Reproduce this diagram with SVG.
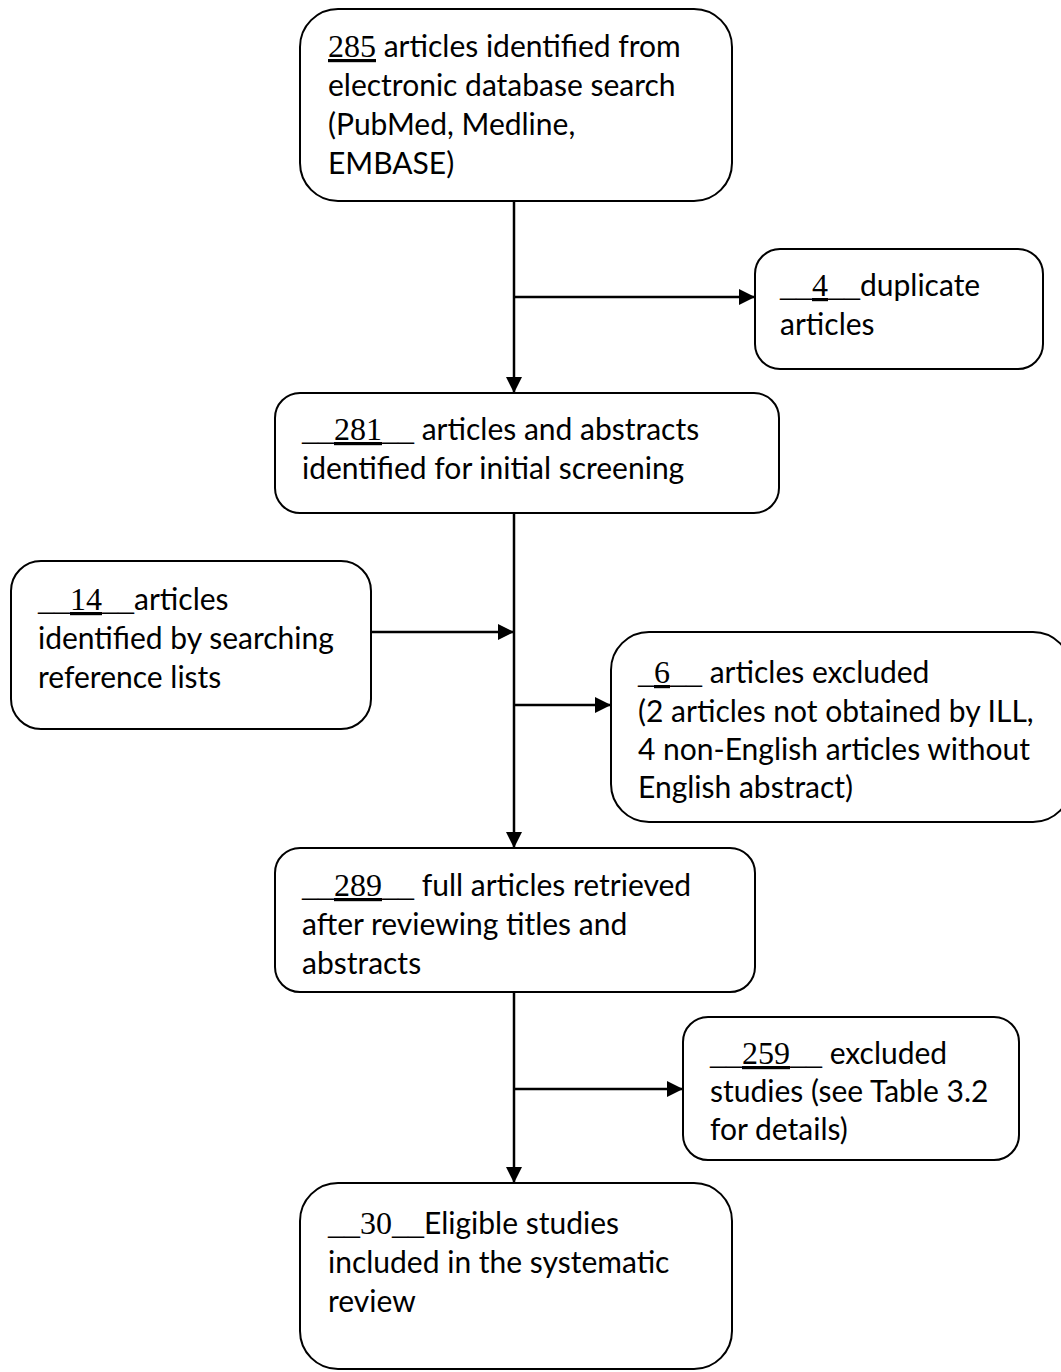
<svg xmlns="http://www.w3.org/2000/svg" width="1061" height="1372" viewBox="0 0 1061 1372">
<defs>
<marker id="ah" markerWidth="16" markerHeight="16" viewBox="0 0 16 16" refX="16" refY="8" orient="auto" markerUnits="userSpaceOnUse">
<path d="M0,0 L16,8 L0,16 Z" fill="#000"/>
</marker>
<style>
.box{fill:#fff;stroke:#000;stroke-width:2}
.ln{fill:none;stroke:#000;stroke-width:2.5}
.t{font-family:Lato,"Liberation Sans",sans-serif;font-size:30px;fill:#000}
.n{font-family:"Liberation Serif",serif;font-size:32px}
.u{text-decoration:underline}
</style>
</defs>
<rect width="1061" height="1372" fill="#fff"/>
<g id="connectors">
<line class="ln" x1="514" y1="201" x2="514" y2="393" marker-end="url(#ah)"/>
<line class="ln" x1="514" y1="297" x2="755" y2="297" marker-end="url(#ah)"/>
<line class="ln" x1="514" y1="513" x2="514" y2="848" marker-end="url(#ah)"/>
<line class="ln" x1="371" y1="632" x2="514" y2="632" marker-end="url(#ah)"/>
<line class="ln" x1="514" y1="705" x2="611" y2="705" marker-end="url(#ah)"/>
<line class="ln" x1="514" y1="992" x2="514" y2="1183" marker-end="url(#ah)"/>
<line class="ln" x1="514" y1="1089" x2="683" y2="1089" marker-end="url(#ah)"/>
</g>
<g id="n285">
<rect class="box" x="300" y="9" width="432" height="192" rx="38"/>
<text class="t" x="328" y="57"><tspan class="n u">285</tspan> articles identified from</text>
<text class="t" x="328" y="96">electronic database search</text>
<text class="t" x="328" y="135">(PubMed, Medline,</text>
<text class="t" x="328" y="174">EMBASE)</text>
</g>
<g id="n4">
<rect class="box" x="755" y="249" width="288" height="120" rx="25"/>
<text class="t" x="780" y="296"><tspan class="n">__</tspan><tspan class="n u">4</tspan><tspan class="n">__</tspan>duplicate</text>
<text class="t" x="780" y="335">articles</text>
</g>
<g id="n281">
<rect class="box" x="275" y="393" width="504" height="120" rx="25"/>
<text class="t" x="302" y="440"><tspan class="n">__</tspan><tspan class="n u">281</tspan><tspan class="n">__</tspan> articles and abstracts</text>
<text class="t" x="302" y="479">identified for initial screening</text>
</g>
<g id="n14">
<rect class="box" x="11" y="561" width="360" height="168" rx="30"/>
<text class="t" x="38" y="610"><tspan class="n">__</tspan><tspan class="n u">14</tspan><tspan class="n">__</tspan>articles</text>
<text class="t" x="38" y="649">identified by searching</text>
<text class="t" x="38" y="688">reference lists</text>
</g>
<g id="n6">
<rect class="box" x="611" y="632" width="460" height="190" rx="38"/>
<text class="t" x="638" y="683"><tspan class="n">_</tspan><tspan class="n u">6</tspan><tspan class="n">__</tspan> articles excluded</text>
<text class="t" x="638" y="722">(2 articles not obtained by ILL,</text>
<text class="t" x="638" y="760">4 non-English articles without</text>
<text class="t" x="638" y="798">English abstract)</text>
</g>
<g id="n289">
<rect class="box" x="275" y="848" width="480" height="144" rx="25"/>
<text class="t" x="302" y="896"><tspan class="n">__</tspan><tspan class="n u">289</tspan><tspan class="n">__</tspan> full articles retrieved</text>
<text class="t" x="302" y="935">after reviewing titles and</text>
<text class="t" x="302" y="974">abstracts</text>
</g>
<g id="n259">
<rect class="box" x="683" y="1017" width="336" height="143" rx="25"/>
<text class="t" x="710" y="1064"><tspan class="n">__</tspan><tspan class="n u">259</tspan><tspan class="n">__</tspan> excluded</text>
<text class="t" x="710" y="1102">studies (see Table 3.2</text>
<text class="t" x="710" y="1140">for details)</text>
</g>
<g id="n30">
<rect class="box" x="300" y="1183" width="432" height="186" rx="38"/>
<text class="t" x="328" y="1234"><tspan class="n">__</tspan><tspan class="n">30</tspan><tspan class="n">__</tspan>Eligible studies</text>
<text class="t" x="328" y="1273">included in the systematic</text>
<text class="t" x="328" y="1312">review</text>
</g>
</svg>
